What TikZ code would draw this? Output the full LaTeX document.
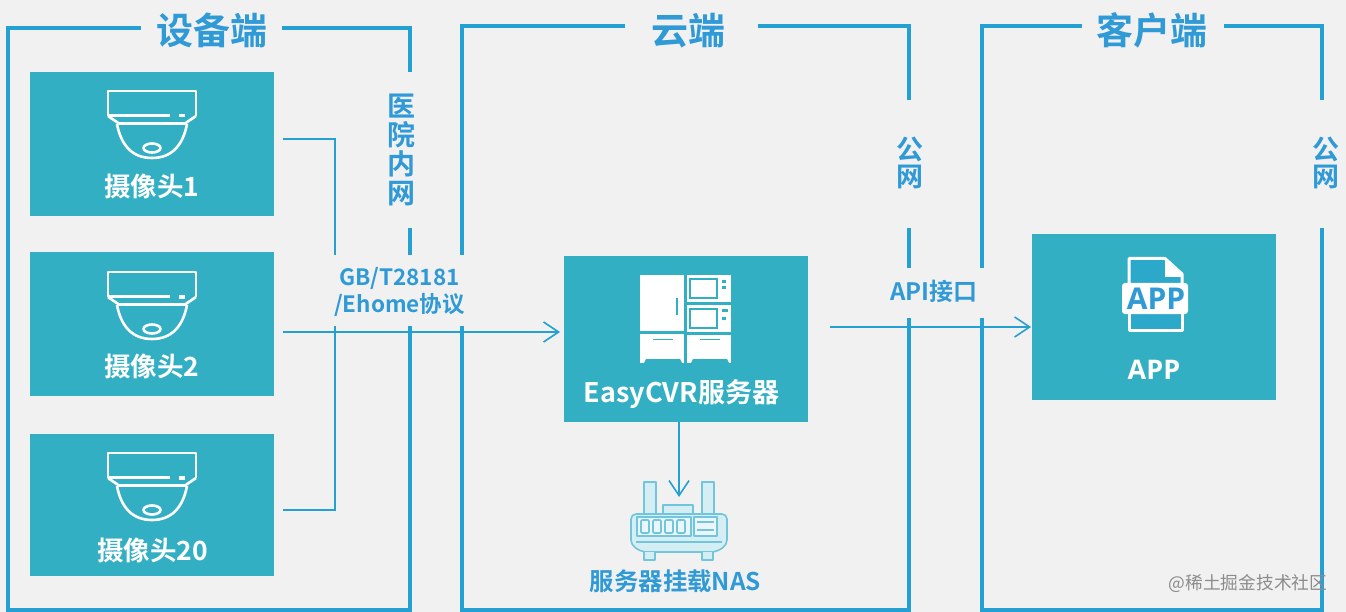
\documentclass[tikz,border=0pt]{standalone}
\usepackage{fontspec}
\setmainfont{Noto Sans CJK SC}[BoldFont={* Bold}]
\newfontfamily\latinb{Open Sans}[BoldFont={* Bold}]
\usetikzlibrary{arrows.meta}
\definecolor{bgc}{HTML}{F1F1F2}
\definecolor{tealbox}{HTML}{33AFC4}
\definecolor{framec}{HTML}{25A0D2}
\definecolor{txtc}{HTML}{2F9AD6}
\definecolor{nasc}{HTML}{72C6DB}
\tikzset{
 x=1pt,y=-1pt,
 frameline/.style={draw=framec,line width=3.4pt,line cap=butt,line join=miter},
 linkline/.style={draw=framec,line width=1.6pt},
 arrowline/.style={draw=framec,line width=1.6pt,-{Straight Barb[length=15pt,width=20pt,line width=1.6pt]}},
 boxnode/.style={fill=tealbox,draw=none,anchor=north west,inner sep=0pt},
 boxtext/.style={text=white,font=\bfseries\fontsize{26.5}{26.5}\selectfont,inner sep=0pt},
 headtext/.style={text=txtc,font=\bfseries\fontsize{37}{37}\selectfont,inner sep=0pt},
 sidetext/.style={text=txtc,font=\bfseries\fontsize{28}{29}\selectfont,inner sep=0pt,align=center},
 sidetwo/.style={text=txtc,font=\bfseries\fontsize{27}{27}\selectfont,inner sep=0pt,align=center},
 prototext/.style={text=txtc,font=\bfseries\fontsize{22.5}{27}\selectfont,inner sep=0pt,align=center},
 icon/.style={draw=white,line width=2.6pt,line join=round},
}
\newcommand{\camicon}[2]{%
 \begin{scope}[shift={(#1,#2)}]
  \draw[icon] (-44,25) -- (-44,0) -- (44,0) -- (44,25);
  \draw[icon] (-44,25) -- (-33,32.5) -- (33,32.5) -- (44,25);
  \draw[icon] (-35,33) .. controls (-31,54) and (-20,67) .. (0,67) .. controls (20,67) and (31,54) .. (35,33);
  \draw[icon] (-44,24.5) -- (18,24.5);
  \fill[white] (27,23) rectangle (33,26.5);
  \draw[icon] (0,57) ellipse (8.5pt and 4.5pt);
 \end{scope}}
\begin{document}
\begin{tikzpicture}
\useasboundingbox[fill=bgc] (0,0) rectangle (1346,612);
% frames
\draw[frameline] (141,28) -- (8,28) -- (8,610) -- (410,610) -- (410,326);
\draw[frameline] (410,255) -- (410,228);
\draw[frameline] (282,28) -- (410,28) -- (410,72);
\draw[frameline] (625,26) -- (462,26) -- (462,255);
\draw[frameline] (462,326) -- (462,610) -- (909,610) -- (909,318);
\draw[frameline] (909,268) -- (909,228);
\draw[frameline] (909,100) -- (909,26) -- (758,26);
\draw[frameline] (1082,26) -- (982,26) -- (982,268);
\draw[frameline] (982,318) -- (982,610) -- (1322,610) -- (1322,228);
\draw[frameline] (1224,26) -- (1322,26) -- (1322,100);
% headings
\node[headtext] (h1) at (212,30) {设备端};
\node[headtext] (h2) at (688,31) {云端};
\node[headtext] (h3) at (1152,30) {客户端};
% side labels
\node[sidetext] (s1) at (401,149.5) {医\\院\\内\\网};
\node[sidetwo] (s2) at (910,163) {公\\网};
\node[sidetwo] (s3) at (1326,163) {公\\网};
% boxes
\node[boxnode,minimum width=244pt,minimum height=144pt] (c1) at (30,72) {};
\node[boxnode,minimum width=244pt,minimum height=144pt] (c2) at (30,252) {};
\node[boxnode,minimum width=244pt,minimum height=142pt] (c3) at (30,434) {};
\node[boxnode,minimum width=244pt,minimum height=166pt] (srv) at (564,256) {};
\node[boxnode,minimum width=244pt,minimum height=166pt] (app) at (1032,234) {};
% camera icons
\camicon{152}{91}
\camicon{152}{272}
\camicon{152}{453}
\node[boxtext] (t1) at (152,186) {摄像头1};
\node[boxtext] (t2) at (152,366) {摄像头2};
\node[boxtext] (t3) at (152.5,550) {摄像头20};
% server icon
\fill[white] (640,275) rectangle (684,331);
\fill[white] (640,333.5) rectangle (684,363);
\fill[white] (687,275) rectangle (731,302);
\fill[white] (687,305) rectangle (731,332);
\fill[white] (687,334.5) rectangle (731,363);
\draw[tealbox,line width=1.1pt] (690,279) rectangle (717,298);
\draw[tealbox,line width=1.1pt] (690,309) rectangle (717,328);
\draw[tealbox,line width=1.1pt] (677,298) -- (677,315);
\draw[tealbox,line width=1.1pt] (653,339.5) -- (673,339.5);
\draw[tealbox,line width=1.1pt] (700,339.5) -- (720,339.5);
\fill[tealbox] (722,280) rectangle (726,283);
\fill[tealbox] (722,286) rectangle (726,289);
\fill[tealbox] (722,309) rectangle (728,312);
\fill[tealbox] (722,317) rectangle (726,320);
\fill[tealbox] (644,363) -- (646,359) -- (680,359) -- (682,363) -- cycle;
\fill[tealbox] (691,363) -- (693,359) -- (727,359) -- (729,363) -- cycle;
\node[boxtext,font=\bfseries\fontsize{27}{27}\selectfont] (t4) at (681.5,394) {EasyCVR服务器};
% app icon
\fill[framec!50!tealbox] (1129,259) -- (1165,259) -- (1182,274) -- (1182,330) -- (1129,330) -- cycle;
\draw[white,line width=3pt,line join=round] (1129,290) -- (1129,258.5) -- (1165,258.5) -- (1182,274) -- (1182,285);
\draw[white,line width=3pt,line join=round] (1129,312) -- (1129,330) -- (1182,330) -- (1182,312);
\fill[white,rounded corners=3pt] (1122,283) rectangle (1188,314);
\fill[white] (1165,258.5) -- (1165,277) -- (1182,277) -- (1182,274) -- cycle;
\node[inner sep=0pt,text=txtc,font=\latinb\bfseries\fontsize{30}{30}\selectfont] (ai) at (1156,299) {APP};
\node[boxtext,font=\latinb\bfseries\fontsize{27}{27}\selectfont] (t5) at (1154,370) {APP};
% NAS icon
\begin{scope}[draw=nasc,line width=1.6pt,line join=round]
 \filldraw[fill=nasc!30] (644,482) rectangle (656,514);
 \filldraw[fill=nasc!30] (702,482) rectangle (714,514);
 \filldraw[fill=nasc!30] (663,514) -- (663,505) -- (693,505) -- (693,514) -- cycle;
 \filldraw[fill=nasc!30,rounded corners=5pt] (631,514) -- (727,514) -- (727,545) -- (716,552) -- (642,552) -- (631,545) -- cycle;
 \draw[fill=nasc!15] (637,517) rectangle (691,536);
 \draw[fill=nasc!15] (694,517) rectangle (717,536);
 \foreach \xx in {641,653,665,677}{\draw[rounded corners=1pt] (\xx,520) rectangle +(8,13);}
 \draw (697,522) -- (714,522);
 \draw (697,530) -- (714,530);
 \draw (636,542) -- (722,542);
 \filldraw[fill=nasc!30] (644,552) -- (644,560) -- (655,560) -- (655,552);
 \filldraw[fill=nasc!30] (702,552) -- (702,560) -- (713,560) -- (713,552);
\end{scope}
\node[inner sep=0pt,text=txtc,font=\bfseries\fontsize{24.4}{24.4}\selectfont] (t6) at (675.5,581) {服务器挂载NAS};
% links
\coordinate (e1) at (283,139);
\coordinate (e2) at (283,510);
\coordinate (e3) at (283,332);
\coordinate (e4) at (560,332);
\coordinate (e5) at (830,327);
\coordinate (e6) at (1031,327);
\coordinate (j1) at (335,139);
\coordinate (j2) at (335,510);
\coordinate (j3) at (335,255);
\coordinate (j4) at (335,326);
\coordinate (e7) at (679,497);
\draw[linkline] (e1) -- (j1) -- (j3);
\draw[linkline] (j4) -- (j2) -- (e2);
\draw[arrowline] (e3) -- (e4);
\draw[arrowline] (e5) -- (e6);
\draw[arrowline] (srv.south -| e7) -- (e7);
% labels
\node[prototext] (p1) at (399.5,291.5) {GB/T28181\\/Ehome协议};
\node[prototext,font=\bfseries\fontsize{24}{24}\selectfont] (p2) at (934,291) {API接口};
\node[inner sep=0pt,text=black!45,font=\fontsize{17.7}{17.7}\selectfont] (wm) at (1248,584) {@稀土掘金技术社区};
\end{tikzpicture}
\end{document}
